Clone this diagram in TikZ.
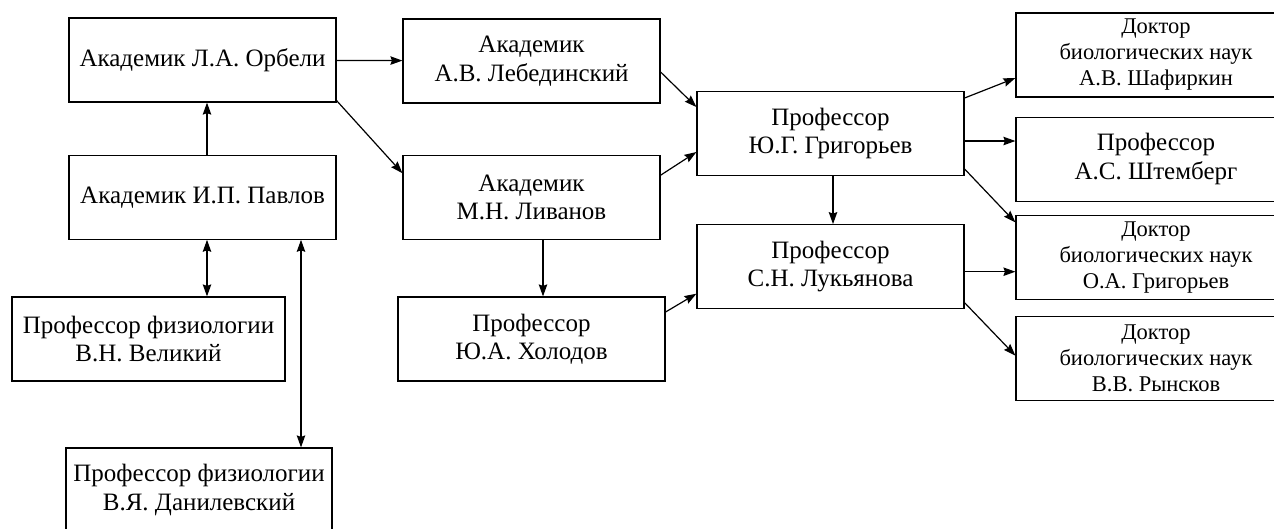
\documentclass[tikz,border=0pt]{standalone}
\usepackage{fontspec}
\setmainfont{Liberation Serif}
\usetikzlibrary{arrows.meta, positioning}
\tikzset{
  personbox/.style = {draw, line width=1.2pt, minimum width=267pt,
                      minimum height=84pt, inner sep=0pt, align=center,
                      font=\fontsize{25}{28.5}\selectfont},
  docbox/.style    = {personbox, minimum width=280pt,
                      font=\fontsize{22.5}{26}\selectfont},
  flow/.style      = {-{Stealth[length=12pt, width=8.5pt, inset=1.5pt]}, line width=1.2pt},
  twoway/.style    = {{Stealth[length=12pt, width=8.5pt, inset=1.5pt]}-{Stealth[length=12pt, width=8.5pt, inset=1.5pt]},
                      line width=1.2pt},
}

\begin{document}
\begin{tikzpicture}[x=1pt, y=-1pt]
    \useasboundingbox (0,0) rectangle (1274,528);
    % left column
    \node[personbox] (orbeli) at (202.5,60) {Академик Л.А. Орбели};
    \node[personbox, below=52pt of orbeli] (pavlov) {Академик И.П. Павлов};
    \node[personbox, minimum width=273pt] (velikiy) at (148.5,339)
      {Профессор физиологии\\В.Н. Великий};
    \node[personbox, minimum width=266pt] (danil) at (199,490)
      {Профессор физиологии\\В.Я. Данилевский};
    % middle column
    \node[personbox, minimum width=257pt] (lebed) at (531.5,61)
      {Академик\\А.В. Лебединский};
    \node[personbox, minimum width=257pt, below=51pt of lebed] (livanov)
      {Академик\\М.Н. Ливанов};
    \node[personbox] (kholodov) at (531.5,339) {Профессор\\Ю.А. Холодов};
    \node[personbox] (ygrig) at (830.5,133.5) {Профессор\\Ю.Г. Григорьев};
    \node[personbox, below=48pt of ygrig] (lukyan) {Профессор\\С.Н. Лукьянова};
    % right column
    \node[docbox] (shafir) at (1156,55)
      {Доктор\\биологических наук\\А.В. Шафиркин};
    \node[docbox, below=19pt of shafir, font=\fontsize{25}{28.5}\selectfont] (shtemb)
      {Профессор\\А.С. Штемберг};
    \node[docbox, below=13pt of shtemb] (ograg)
      {Доктор\\биологических наук\\О.А. Григорьев};
    \node[docbox, below=16pt of ograg] (rynsk)
      {Доктор\\биологических наук\\В.В. Рынсков};
    % connectors
    \coordinate (vtop) at ([xshift=58.5pt]velikiy.north);
    \coordinate (dtop) at ([xshift=102pt]danil.north);
    \coordinate (ktop) at ([xshift=11.5pt]kholodov.north);
    \coordinate (gout) at ([yshift=-7.5pt]ygrig.east);
    \coordinate (lout) at ([yshift=-5pt]lukyan.east);
    \draw[flow] ([xshift=4.5pt]pavlov.north) -- ([xshift=4.5pt]orbeli.south);
    \draw[twoway] (vtop |- pavlov.south) -- (vtop);
    \draw[twoway] (dtop |- pavlov.south) -- (dtop);
    \draw[flow] (orbeli) -- (lebed);
    \draw[flow] ([yshift=2pt]orbeli.south east) -- ([yshift=24pt]livanov.west);
    \draw[flow] (ktop |- livanov.south) -- (ktop);
    \draw[flow] ([yshift=-11pt]lebed.east) -- ([yshift=26.5pt]ygrig.west);
    \draw[flow] ([yshift=22pt]livanov.east) -- ([yshift=-18.5pt]ygrig.west);
    \draw[flow] ([yshift=27pt]kholodov.east) -- ([yshift=-27pt]lukyan.west);
    \draw[flow] ([xshift=2.5pt]ygrig.south) -- ([xshift=2.5pt]lukyan.north);
    \draw[flow] ([yshift=35.5pt]ygrig.east) -- ([yshift=-23pt]shafir.west);
    \draw[flow] (gout) -- (gout -| shtemb.west);
    \draw[flow] ([yshift=-35.5pt]ygrig.east) -- ([yshift=35pt]ograg.west);
    \draw[flow] (lout) -- (lout -| ograg.west);
    \draw[flow] ([yshift=-36pt]lukyan.east) -- ([yshift=3pt]rynsk.west);
  \end{tikzpicture}
\end{document}
